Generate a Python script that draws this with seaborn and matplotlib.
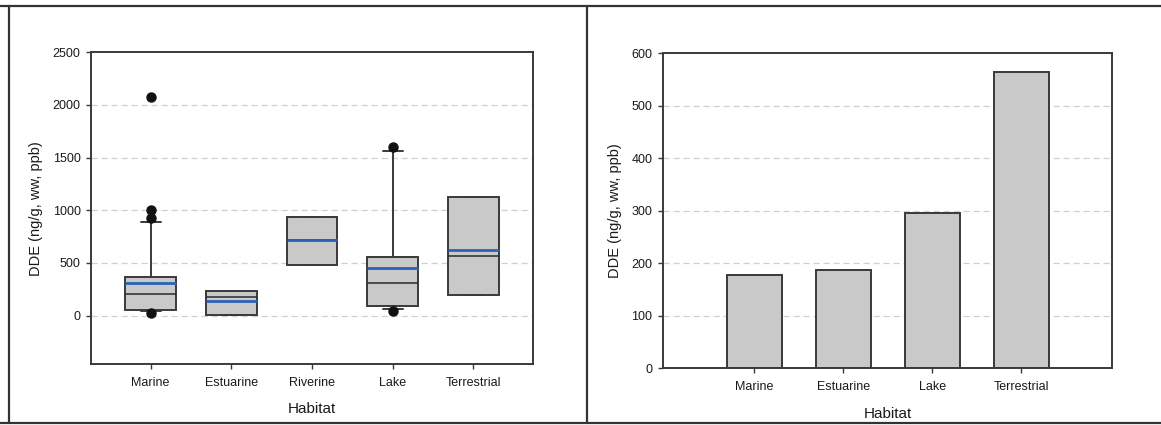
import matplotlib
matplotlib.use("Agg")
import matplotlib.pyplot as plt
import seaborn as sns
import pandas as pd
from matplotlib.lines import Line2D

# ---- data: left panel (box plots) ----
box_categories = ["Marine", "Estuarine", "Riverine", "Lake", "Terrestrial"]
box_q1 = [51, 6, 484, 95, 199]
box_median = [202, 180, 714, 310, 563]
box_q3 = [370, 230, 932, 553, 1125]
box_mean = [313, 140, 714, 452, 626]
whisker_low = [40, 6, 484, 63, 199]
whisker_high = [891, 230, 932, 1558, 1125]
box_fliers = [[2073, 999, 926, 25], [], [], [1605, 45], []]

# ---- data: right panel (bars) ----
bar_categories = ["Marine", "Estuarine", "Lake", "Terrestrial"]
bar_values = [177, 187, 296, 565]

sns.set_theme(style="white")
plt.rcParams["font.family"] = ["Liberation Sans", "DejaVu Sans"]

W, H = 1161, 425
fig = plt.figure(figsize=(W / 100, H / 100), dpi=100)

def ax_rect(x0, x1, ytop, ybot):
    return [x0 / W, (H - ybot) / H, (x1 - x0) / W, (ybot - ytop) / H]

ax1 = fig.add_axes(ax_rect(91, 533, 52.3, 364))
ax2 = fig.add_axes(ax_rect(662.7, 1112.3, 53.3, 368.3))

edge = "#3a3a3a"
fill = "#c9c9c9"
grid_kw = dict(color="#d0d0d0", linestyle=(0, (5, 3)), linewidth=0.9)

# ---- left panel ----
stats = []
for i, cat in enumerate(box_categories):
    stats.append(dict(label=cat, q1=box_q1[i], med=box_median[i], q3=box_q3[i],
                      mean=box_mean[i], whislo=whisker_low[i], whishi=whisker_high[i],
                      fliers=box_fliers[i]))
ax1.set_axisbelow(True)
for y in [0, 500, 1000, 1500, 2000]:
    ax1.axhline(y, zorder=0, **grid_kw)
ax1.bxp(stats, positions=range(len(box_categories)), widths=0.63, patch_artist=True,
        showmeans=True, meanline=True, capwidths=0.25,
        boxprops=dict(facecolor=fill, edgecolor=edge, linewidth=1.4),
        medianprops=dict(color="#2b2b2b", linewidth=1.1),
        meanprops=dict(color="#2a62b8", linewidth=2.0, linestyle="-"),
        whiskerprops=dict(color=edge, linewidth=1.4),
        capprops=dict(color=edge, linewidth=1.4),
        flierprops=dict(marker="o", markerfacecolor="#111111", markeredgecolor="#111111",
                        markersize=6.5))
ax1.set_xlim(-0.74, 4.74)
ax1.set_ylim(-460, 2500)
ax1.set_yticks([0, 500, 1000, 1500, 2000, 2500])
ax1.set_xticks(range(len(box_categories)))
ax1.set_xticklabels(box_categories)

# ---- right panel ----
df = pd.DataFrame({"Habitat": bar_categories, "DDE": bar_values})
for y in [100, 200, 300, 400, 500]:
    ax2.axhline(y, zorder=0, **grid_kw)
sns.barplot(data=df, x="Habitat", y="DDE", ax=ax2, color=fill, width=0.61,
            edgecolor=edge, linewidth=1.4, saturation=1, zorder=2)
ax2.set_xlim(-1.03, 4.02)
ax2.set_ylim(0, 600)
ax2.set_yticks([0, 100, 200, 300, 400, 500, 600])

for ax in (ax1, ax2):
    for s in ax.spines.values():
        s.set_color(edge)
        s.set_linewidth(1.4)
        s.set_visible(True)
    ax.tick_params(axis="both", which="both", direction="out", length=3.5, width=1,
                   color=edge, labelsize=9, labelcolor="#1a1a1a", pad=4,
                   bottom=True, left=True, top=False, right=False)
    ax.tick_params(axis="x", pad=6)
    ax.set_xlabel("Habitat", fontsize=11, color="#1a1a1a", labelpad=9.5)
    ax.set_ylabel("DDE (ng/g, ww, ppb)", fontsize=10.5, color="#1a1a1a", labelpad=7)
    ax.grid(False)

# ---- panel frame lines ----
frame_kw = dict(color="#333333", linewidth=1.6, transform=fig.transFigure)
fig.add_artist(Line2D([0, 1], [1 - 6 / H, 1 - 6 / H], **frame_kw))
fig.add_artist(Line2D([0, 1], [1 - 422.5 / H, 1 - 422.5 / H], **frame_kw))
fig.add_artist(Line2D([9 / W, 9 / W], [1 - 6 / H, 1 - 422.5 / H], **frame_kw))
fig.add_artist(Line2D([587 / W, 587 / W], [1 - 6 / H, 1 - 422.5 / H], **frame_kw))

fig.savefig("out.png", dpi=100)
